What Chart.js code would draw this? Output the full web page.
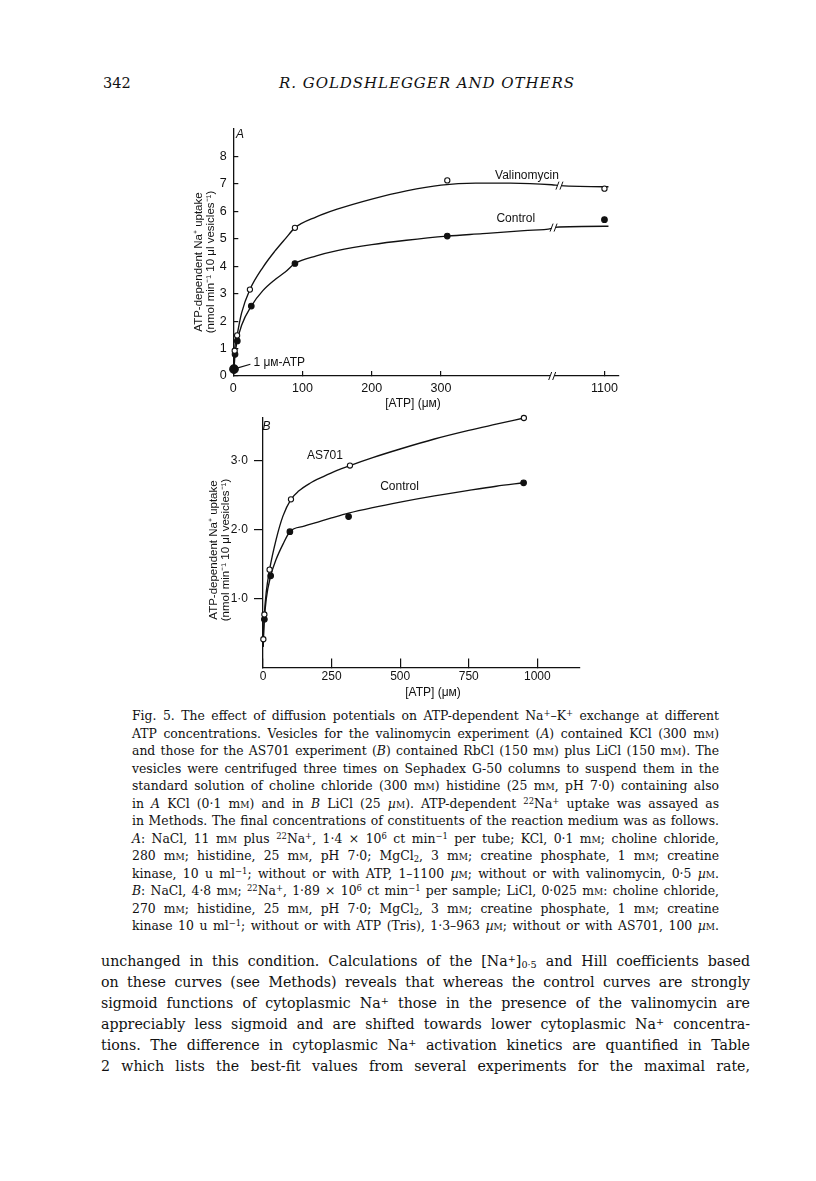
<!DOCTYPE html>
<html>
<head>
<meta charset="utf-8">
<script src="https://cdn.jsdelivr.net/npm/chart.js@4.4.1/dist/chart.umd.min.js"></script>
<style>
  body { margin: 0; background: #fff; }
  #page { position: relative; width: 816px; height: 1181px; overflow: hidden; background: #fff;
          font-family: "DejaVu Serif", serif; color: #111; }
  .abs { position: absolute; }
  canvas { position: absolute; }
  .ln { white-space: nowrap; text-align: justify; text-align-last: justify; overflow: visible; }
  #caption { position: absolute; left: 132px; top: 707px; width: 587px; font-size: 12.4px; line-height: 17.5px; }
  #bodytext { position: absolute; left: 101px; top: 951.3px; width: 649px; font-size: 14.2px; line-height: 21px; }
  .sc { font-variant: small-caps; }
  sup, sub { font-size: 0.68em; line-height: 0; }
  sup { vertical-align: 0.45em; }
  sub { vertical-align: -0.25em; }
</style>
</head>
<body>
<div id="page">
  <div class="abs" style="left:103px; top:73px; font-size:14.5px; line-height:20px;">342</div>
  <div id="runhead" class="abs" style="left:279px; top:73px; font-size:15px; line-height:20px; font-style:italic; white-space:nowrap;">R. GOLDSHLEGGER AND OTHERS</div>

  <canvas id="chartA" width="490" height="310" style="left:150px; top:110px;"></canvas>
  <canvas id="chartB" width="460" height="305" style="left:150px; top:400px;"></canvas>

  <div id="caption">
    <div class="ln">Fig. 5. The effect of diffusion potentials on ATP-dependent Na<sup>+</sup>–K<sup>+</sup> exchange at different</div>
    <div class="ln">ATP concentrations. Vesicles for the valinomycin experiment (<i>A</i>) contained KCl (300 m<span class="sc">m</span>)</div>
    <div class="ln">and those for the AS701 experiment (<i>B</i>) contained RbCl (150 m<span class="sc">m</span>) plus LiCl (150 m<span class="sc">m</span>). The</div>
    <div class="ln">vesicles were centrifuged three times on Sephadex G-50 columns to suspend them in the</div>
    <div class="ln">standard solution of choline chloride (300 m<span class="sc">m</span>) histidine (25 m<span class="sc">m</span>, pH 7·0) containing also</div>
    <div class="ln">in <i>A</i> KCl (0·1 m<span class="sc">m</span>) and in <i>B</i> LiCl (25 <i>µ</i><span class="sc">m</span>). ATP-dependent <sup>22</sup>Na<sup>+</sup> uptake was assayed as</div>
    <div class="ln">in Methods. The final concentrations of constituents of the reaction medium was as follows.</div>
    <div class="ln"><i>A</i>: NaCl, 11 m<span class="sc">m</span> plus <sup>22</sup>Na<sup>+</sup>, 1·4 × 10<sup>6</sup> ct min<sup>−1</sup> per tube; KCl, 0·1 m<span class="sc">m</span>; choline chloride,</div>
    <div class="ln">280 m<span class="sc">m</span>; histidine, 25 m<span class="sc">m</span>, pH 7·0; MgCl<sub>2</sub>, 3 m<span class="sc">m</span>; creatine phosphate, 1 m<span class="sc">m</span>; creatine</div>
    <div class="ln">kinase, 10 u ml<sup>−1</sup>; without or with ATP, 1–1100 <i>µ</i><span class="sc">m</span>; without or with valinomycin, 0·5 <i>µ</i><span class="sc">m</span>.</div>
    <div class="ln"><i>B</i>: NaCl, 4·8 m<span class="sc">m</span>; <sup>22</sup>Na<sup>+</sup>, 1·89 × 10<sup>6</sup> ct min<sup>−1</sup> per sample; LiCl, 0·025 m<span class="sc">m</span>: choline chloride,</div>
    <div class="ln">270 m<span class="sc">m</span>; histidine, 25 m<span class="sc">m</span>, pH 7·0; MgCl<sub>2</sub>, 3 m<span class="sc">m</span>; creatine phosphate, 1 m<span class="sc">m</span>; creatine</div>
    <div class="ln">kinase 10 u ml<sup>−1</sup>; without or with ATP (Tris), 1·3–963 <i>µ</i><span class="sc">m</span>; without or with AS701, 100 <i>µ</i><span class="sc">m</span>.</div>
  </div>

  <div id="bodytext">
    <div class="ln">unchanged in this condition. Calculations of the [Na<sup>+</sup>]<sub>0·5</sub> and Hill coefficients based</div>
    <div class="ln">on these curves (see Methods) reveals that whereas the control curves are strongly</div>
    <div class="ln">sigmoid functions of cytoplasmic Na<sup>+</sup> those in the presence of the valinomycin are</div>
    <div class="ln">appreciably less sigmoid and are shifted towards lower cytoplasmic Na<sup>+</sup> concentra-</div>
    <div class="ln">tions. The difference in cytoplasmic Na<sup>+</sup> activation kinetics are quantified in Table</div>
    <div class="ln">2 which lists the best-fit values from several experiments for the maximal rate,</div>
  </div>
</div>

<script>
const INK = '#111';
const SANS = '"Liberation Sans", Arial, sans-serif';

// ---- Panel A: valinomycin vs control, [ATP] in uM (axis broken before 1100)
const A_VAL_X = [2, 5.5, 24, 89, 309, 1100];
const A_VAL_Y = [0.92, 1.48, 3.15, 5.4, 7.13, 6.83];
const A_CTL_X = [2.5, 5.8, 26, 89, 309, 1100];
const A_CTL_Y = [0.79, 1.28, 2.55, 4.1, 5.1, 5.7];
const A_ONE_X = [1];          // the 1 uM-ATP point
const A_ONE_Y = [0.25];
const A_VAL_FIT_X = [1, 2, 5.5, 12, 24, 43, 60, 75, 89, 120, 150, 200, 250, 300, 350, 400, 460, 540, 1100, 1150];
const A_VAL_FIT_Y = [0.25, 0.92, 1.48, 2.3, 3.15, 3.97, 4.55, 5.0, 5.4, 5.8, 6.08, 6.45, 6.75, 6.96, 7.03, 7.03, 6.97, 6.94, 6.9, 6.9];
const A_CTL_FIT_X = [1, 2.5, 5.8, 12, 26, 43, 60, 75, 89, 120, 150, 200, 250, 309, 360, 420, 460, 480, 1100, 1150];
const A_CTL_FIT_Y = [0.25, 0.79, 1.28, 1.85, 2.55, 3.12, 3.51, 3.79, 4.1, 4.38, 4.57, 4.79, 4.95, 5.1, 5.19, 5.3, 5.38, 5.42, 5.46, 5.46];
const A_X_TICKS = [0, 100, 200, 300, 1100];
const A_Y_TICKS = [0, 1, 2, 3, 4, 5, 6, 7, 8];

// ---- Panel B: AS701 vs control
const B_AS_X = [1.3, 5, 24, 102, 317, 951];
const B_AS_Y = [0.41, 0.77, 1.42, 2.44, 2.93, 3.62];
const B_CTL_X = [5, 28, 98, 312, 950];
const B_CTL_Y = [0.70, 1.33, 1.97, 2.19, 2.68];
const B_AS_FIT_X = [0.8, 1.3, 5, 12, 24, 48, 73, 102, 130, 170, 220, 270, 317, 400, 500, 625, 750, 850, 951];
const B_AS_FIT_Y = [0.3, 0.41, 0.77, 1.1, 1.42, 1.86, 2.2, 2.44, 2.56, 2.67, 2.77, 2.86, 2.93, 3.045, 3.17, 3.315, 3.44, 3.53, 3.62];
const B_CTL_FIT_X = [0.8, 1.3, 5, 12, 28, 48, 73, 98, 150, 200, 250, 312, 400, 500, 625, 750, 850, 950];
const B_CTL_FIT_Y = [0.3, 0.4, 0.7, 1.0, 1.33, 1.57, 1.79, 1.97, 2.05, 2.11, 2.17, 2.24, 2.32, 2.40, 2.49, 2.57, 2.63, 2.68];
const B_X_TICKS = [0, 250, 500, 750, 1000];
const B_Y_TICKS = [1, 2, 3];

// broken x axis of panel A: 0-460 linear, then 460..1100 squeezed
function brk(x) {
  return x <= 460 ? x : 462 + (x - 460) * (536 - 462) / (1100 - 460);
}
const same = x => x;

function pts(xs, ys, map, filled, r) {
  return {
    data: xs.map((v, i) => ({ x: map(v), y: ys[i] })),
    showLine: false, clip: false,
    pointRadius: r, pointBorderWidth: 1.1, pointBorderColor: INK,
    pointBackgroundColor: filled ? INK : '#fff'
  };
}
function curve(xs, ys, map) {
  return {
    data: xs.map((v, i) => ({ x: map(v), y: ys[i] })),
    showLine: true, clip: false, pointRadius: 0,
    borderColor: INK, borderWidth: 1.35, cubicInterpolationMode: 'monotone'
  };
}

// titles, panel letter, curve labels, axis breaks
const notes = {
  id: 'notes',
  afterDatasetsDraw(chart, args, o) {
    const { ctx } = chart;
    const sx = chart.scales.x, sy = chart.scales.y;
    const px = v => sx.getPixelForValue(v), py = v => sy.getPixelForValue(v);
    ctx.save();
    ctx.fillStyle = INK; ctx.strokeStyle = INK;
    ctx.textBaseline = 'middle';

    ctx.font = '11.5px ' + SANS;
    ctx.save();
    ctx.translate(o.yTitle.x, o.yTitle.y);
    ctx.rotate(-Math.PI / 2);
    ctx.textAlign = 'center';
    o.yTitle.lines.forEach((t, i) => ctx.fillText(t, 0, i * o.yTitle.gap));
    ctx.restore();

    ctx.font = '12px ' + SANS;
    ctx.textAlign = 'center';
    ctx.fillText(o.xTitle.text, o.xTitle.x, o.xTitle.y);

    ctx.font = 'italic 12px ' + SANS;
    ctx.fillText(o.letter.text, o.letter.x, o.letter.y);

    ctx.font = '12px ' + SANS;
    ctx.textAlign = 'left';
    o.labels.forEach(l => ctx.fillText(l.text, px(l.x), py(l.y)));

    if (o.leader) {
      const [a, b] = o.leader;
      ctx.lineWidth = 1.1;
      ctx.beginPath();
      ctx.moveTo(px(a.x) + 3, py(a.y) - 1);
      ctx.lineTo(px(b.x) - 3, py(b.y) + 2);
      ctx.stroke();
    }

    ctx.lineWidth = 1;
    (o.breaks || []).forEach(b => {
      const cx = px(b.x), cy = py(b.y);
      ctx.fillStyle = '#fff';
      ctx.fillRect(cx - 2, cy - 1.5, 4, 3);
      [-2, 2].forEach(d => {
        ctx.beginPath();
        ctx.moveTo(cx + d - 1.5, cy + 4);
        ctx.lineTo(cx + d + 1.5, cy - 4);
        ctx.stroke();
      });
    });
    ctx.restore();
  }
};

function axis(opts) {
  return {
    type: 'linear', min: opts.min, max: opts.max,
    afterBuildTicks: s => { s.ticks = opts.ticks.map(v => ({ value: opts.map(v) })); },
    afterFit: s => { if (opts.width) s.width = opts.width; if (opts.height) s.height = opts.height; },
    border: { display: true, color: INK, width: 1.3 },
    grid: { drawOnChartArea: false, drawTicks: true, tickLength: opts.tick, color: INK, lineWidth: 1.2 },
    ticks: { color: INK, padding: opts.pad, font: { family: SANS, size: opts.size }, callback: opts.label }
  };
}

Chart.defaults.font.family = SANS;

new Chart(document.getElementById('chartA'), {
  type: 'scatter',
  data: {
    datasets: [
      pts(A_ONE_X, A_ONE_Y, brk, true, 4.3),
      pts(A_VAL_X, A_VAL_Y, brk, false, 2.6),
      pts(A_CTL_X, A_CTL_Y, brk, true, 2.8),
      curve(A_VAL_FIT_X, A_VAL_FIT_Y, brk),
      curve(A_CTL_FIT_X, A_CTL_FIT_Y, brk)
    ]
  },
  options: {
    responsive: false, animation: false,
    layout: { padding: { top: 18, right: 21, bottom: 0, left: 0 } },
    scales: {
      x: axis({ min: 0, max: 557, ticks: A_X_TICKS, map: brk, height: 44, tick: -5, pad: 9.8, size: 12.5,
                label: v => String(A_X_TICKS.find(t => Math.abs(brk(t) - v) < 0.01)) }),
      y: axis({ min: 0, max: 9, ticks: A_Y_TICKS, map: same, width: 83.3, tick: -5, pad: 11.6, size: 12.5,
                label: v => String(v) })
    },
    plugins: {
      legend: { display: false }, tooltip: { enabled: false },
      notes: {
        yTitle: { x: 48.5, y: 152, gap: 12, lines: ['ATP-dependent Na⁺ uptake', '(nmol min⁻¹ 10 μl vesicles⁻¹)'] },
        xTitle: { text: '[ATP] (μᴍ)', x: 263, y: 294 },
        letter: { text: 'A', x: 90, y: 25 },
        labels: [
          { text: 'Valinomycin', x: 378, y: 7.29 },
          { text: 'Control', x: 380, y: 5.73 },
          { text: '1 μᴍ-ATP', x: 29, y: 0.5 }
        ],
        leader: [{ x: brk(1), y: 0.25 }, { x: 29, y: 0.5 }],
        breaks: [{ x: 460.5, y: 0 }, { x: 471, y: 6.94 }, { x: 462.5, y: 5.41 }]
      }
    }
  },
  plugins: [notes]
});

new Chart(document.getElementById('chartB'), {
  type: 'scatter',
  data: {
    datasets: [
      pts(B_AS_X, B_AS_Y, same, false, 2.6),
      pts(B_CTL_X, B_CTL_Y, same, true, 2.8),
      curve(B_AS_FIT_X, B_AS_FIT_Y, same),
      curve(B_CTL_FIT_X, B_CTL_FIT_Y, same)
    ]
  },
  options: {
    responsive: false, animation: false,
    layout: { padding: { top: 18, right: 30, bottom: 0, left: 0 } },
    scales: {
      x: axis({ min: 0, max: 1155.6, ticks: B_X_TICKS, map: same, height: 37.5, tick: -9, pad: 10.6, size: 12,
                label: v => String(v) }),
      y: axis({ min: 0, max: 3.62, ticks: B_Y_TICKS, map: same, width: 113, tick: 9, pad: 6, size: 12,
                label: v => v.toFixed(1).replace('.', '·') })
    },
    plugins: {
      legend: { display: false }, tooltip: { enabled: false },
      notes: {
        yTitle: { x: 64, y: 150, gap: 11.5, lines: ['ATP-dependent Na⁺ uptake', '(nmol min⁻¹ 10 μl vesicles⁻¹)'] },
        xTitle: { text: '[ATP] (μᴍ)', x: 283, y: 292.6 },
        letter: { text: 'B', x: 116.5, y: 27 },
        labels: [
          { text: 'AS701', x: 160, y: 3.08 },
          { text: 'Control', x: 427, y: 2.62 }
        ]
      }
    }
  },
  plugins: [notes]
});

// squeeze text lines that are wider than their measure
document.querySelectorAll('.ln').forEach(el => {
  const over = el.scrollWidth - el.clientWidth;
  if (over > 0) el.style.letterSpacing = (-over / el.textContent.length).toFixed(3) + 'px';
});
// running head spread to its printed width
const rh = document.getElementById('runhead');
const natural = rh.getBoundingClientRect().width;
rh.style.letterSpacing = ((295 - natural) / (rh.textContent.length - 1)).toFixed(3) + 'px';
</script>
</body>
</html>
